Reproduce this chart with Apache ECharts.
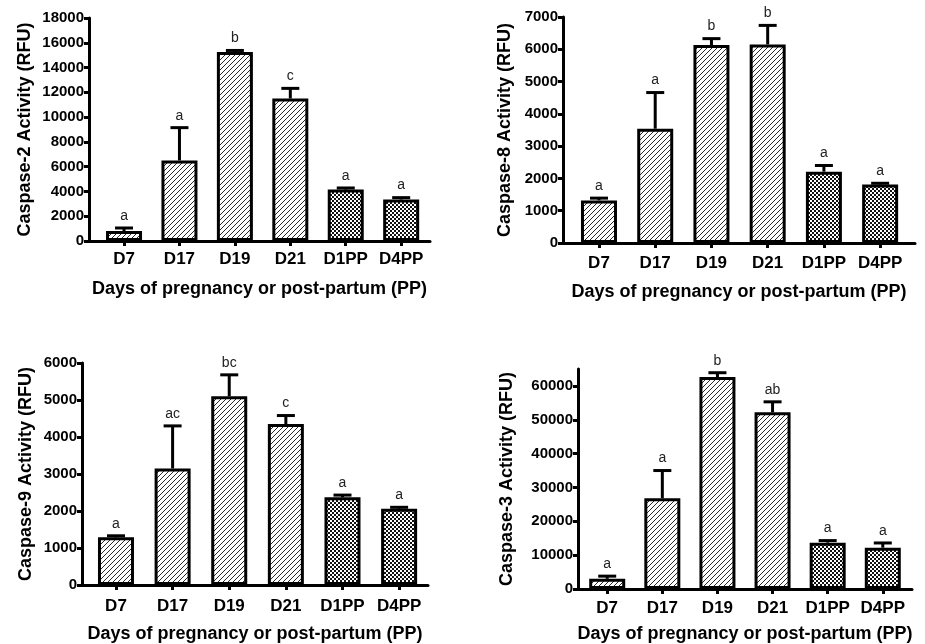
<!DOCTYPE html>
<html>
<head>
<meta charset="utf-8">
<script src="https://cdn.jsdelivr.net/npm/echarts@6/dist/echarts.min.js"></script>
<style>html,body{margin:0;padding:0;background:#fff}#c{width:925px;height:644px}</style>
</head>
<body>
<div id="c"></div>
<script>
// ---- data ----
var categories = ['D7', 'D17', 'D19', 'D21', 'D1PP', 'D4PP'];
var xTitle = 'Days of pregnancy or post-partum (PP)';

var casp2Mean = [800, 6500, 15250, 11500, 4150, 3350];
var casp2Sem  = [250, 2650, 130, 820, 130, 150];
var casp2Sig  = ['a', 'a', 'b', 'c', 'a', 'a'];

var casp8Mean = [1320, 3540, 6130, 6150, 2210, 1810];
var casp8Sem  = [70, 1120, 200, 590, 190, 40];
var casp8Sig  = ['a', 'a', 'b', 'b', 'a', 'a'];

var casp9Mean = [1290, 3150, 5100, 4350, 2370, 2060];
var casp9Sem  = [40, 1150, 580, 230, 60, 40];
var casp9Sig  = ['a', 'ac', 'bc', 'c', 'a', 'a'];

var casp3Mean = [3000, 26800, 62600, 52200, 13700, 12200];
var casp3Sem  = [800, 8200, 1300, 3100, 600, 1400];
var casp3Sig  = ['a', 'a', 'b', 'ab', 'a', 'a'];

var casp2Ticks = [0, 2000, 4000, 6000, 8000, 10000, 12000, 14000, 16000, 18000];
var casp8Ticks = [0, 1000, 2000, 3000, 4000, 5000, 6000, 7000];
var casp9Ticks = [0, 1000, 2000, 3000, 4000, 5000, 6000];
var casp3Ticks = [0, 10000, 20000, 30000, 40000, 50000, 60000];

// ---- patterns ----
function hatchCanvas() {
  var n = 5;
  var c = document.createElement('canvas'); c.width = n; c.height = n;
  var g = c.getContext('2d');
  g.fillStyle = '#fff'; g.fillRect(0, 0, n, n);
  g.strokeStyle = '#2a2a2a'; g.lineWidth = 1;
  g.beginPath();
  g.moveTo(-1, n + 1); g.lineTo(n + 1, -1);
  g.moveTo(-1, 1); g.lineTo(1, -1);
  g.moveTo(n - 1, n + 1); g.lineTo(n + 1, n - 1);
  g.stroke();
  return c;
}
function checkCanvas() {
  var c = document.createElement('canvas'); c.width = 4; c.height = 4;
  var g = c.getContext('2d');
  g.fillStyle = '#fff'; g.fillRect(0, 0, 4, 4);
  g.fillStyle = '#111';
  g.fillRect(0, 0, 2, 2); g.fillRect(2, 2, 2, 2);
  return c;
}
var hatch = { image: hatchCanvas(), repeat: 'repeat' };
var check = { image: checkCanvas(), repeat: 'repeat' };

var FONT = 'Liberation Sans';

var panels = [
  { mean: casp2Mean, sem: casp2Sem, sig: casp2Sig, ticks: casp2Ticks, max: 18000, yName: 'Caspase-2 Activity (RFU)',
    grid: { left: 89, right: 495, top: 18, bottom: 403 }, xmin: -0.632, xmax: 5.52, yGap: 55, xGap: 39, lblMargin: 10 },
  { mean: casp8Mean, sem: casp8Sem, sig: casp8Sig, ticks: casp8Ticks, max: 7000, yName: 'Caspase-8 Activity (RFU)',
    grid: { left: 563, right: 10, top: 17, bottom: 401 }, xmin: -0.64, xmax: 5.62, yGap: 49, xGap: 40, lblMargin: 12 },
  { mean: casp9Mean, sem: casp9Sem, sig: casp9Sig, ticks: casp9Ticks, max: 6000, yName: 'Caspase-9 Activity (RFU)',
    grid: { left: 82, right: 497, top: 363, bottom: 55 }, xmin: -0.6, xmax: 5.51, yGap: 47, xGap: 40, lblMargin: 13 },
  { mean: casp3Mean, sem: casp3Sem, sig: casp3Sig, ticks: casp3Ticks, max: 65000, yName: 'Caspase-3 Activity (RFU)',
    grid: { left: 578, right: 13, top: 369, bottom: 52 }, xmin: -0.53, xmax: 5.53, yGap: 62, xGap: 36, lblMargin: 11 }
];

var option = { animation: false, backgroundColor: '#fff', grid: [], xAxis: [], yAxis: [], series: [] };
var idx = [0, 1, 2, 3, 4, 5];

panels.forEach(function (p, k) {
  option.grid.push(p.grid);
  option.xAxis.push({
    type: 'value', gridIndex: k, min: p.xmin, max: p.xmax,
    name: xTitle, nameLocation: 'middle', nameGap: p.xGap,
    nameTextStyle: { fontFamily: FONT, fontWeight: 'bold', fontSize: 18, color: '#000' },
    splitLine: { show: false },
    axisLine: { show: true, lineStyle: { color: '#000', width: 3 } },
    axisTick: { show: true, length: 5, lineStyle: { color: '#000', width: 3 }, customValues: idx },
    axisLabel: { customValues: idx, margin: p.lblMargin, fontFamily: FONT, fontWeight: 'bold', fontSize: 17, color: '#000',
      formatter: function (v) { return categories[Math.round(v)]; } }
  });
  option.yAxis.push({
    type: 'value', gridIndex: k, min: 0, max: p.max,
    name: p.yName, nameLocation: 'middle', nameGap: p.yGap, nameRotate: 90,
    nameTextStyle: { fontFamily: FONT, fontWeight: 'bold', fontSize: 18, color: '#000' },
    splitLine: { show: false },
    axisLine: { show: true, onZero: false, lineStyle: { color: '#000', width: 3 } },
    axisTick: { show: true, length: 5, lineStyle: { color: '#000', width: 3 }, customValues: p.ticks },
    axisLabel: { customValues: p.ticks, margin: 5, fontFamily: FONT, fontWeight: 'bold', fontSize: 15, color: '#000',
      formatter: function (v) { return String(v); } }
  });
  option.series.push({
    type: 'bar', xAxisIndex: k, yAxisIndex: k, barWidth: 36, z: 2,
    data: p.mean.map(function (v, i) {
      return { value: [i, v], itemStyle: { color: i >= 4 ? check : hatch, borderColor: '#000', borderWidth: 3 } };
    })
  });
  option.series.push({
    type: 'custom', xAxisIndex: k, yAxisIndex: k, z: 3,
    data: p.mean.map(function (v, i) { return [i, v, v + p.sem[i]]; }),
    renderItem: function (params, api) {
      var i = params.dataIndex;
      var base = api.coord([api.value(0), api.value(1)]);
      var top = api.coord([api.value(0), api.value(2)]);
      var ls = { stroke: '#000', lineWidth: 3 };
      return { type: 'group', children: [
        { type: 'line', shape: { x1: base[0], y1: base[1], x2: top[0], y2: top[1] }, style: ls },
        { type: 'line', shape: { x1: top[0] - 9, y1: top[1], x2: top[0] + 9, y2: top[1] }, style: ls },
        { type: 'text', x: top[0], y: top[1] - 5, style: { text: p.sig[i], fontFamily: FONT, fontSize: 14, fill: '#222', align: 'center', verticalAlign: 'bottom' } }
      ] };
    }
  });
});

var chart = echarts.init(document.getElementById('c'), null, { renderer: 'canvas' });
chart.setOption(option);
</script>
</body>
</html>
